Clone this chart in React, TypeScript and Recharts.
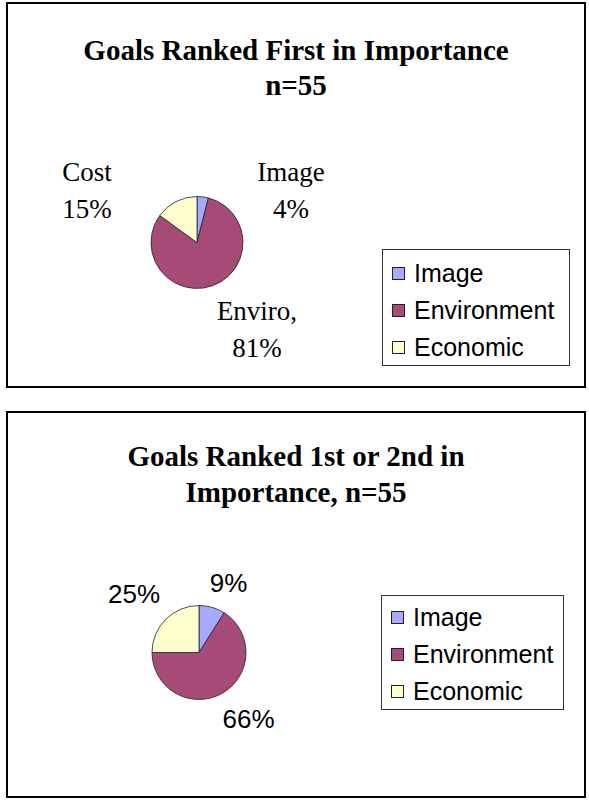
import React from 'react';
import { PieChart, Pie, Cell, Legend } from 'recharts';

// ---------- data ----------
const legendNames = ['Image', 'Environment', 'Economic'];
const sliceColors = ['#a6aaff', '#a64a78', '#ffffd0'];

const firstTitle = ['Goals Ranked First in Importance', 'n=55'];
const firstValues = [4, 81, 15];
const firstLabels = [['Image', '4%'], ['Enviro,', '81%'], ['Cost', '15%']];

const secondTitle = ['Goals Ranked 1st or 2nd in', 'Importance, n=55'];
const secondValues = [9, 66, 25];
const secondLabels = [['9%'], ['66%'], ['25%']];

// ---------- layout ----------
type LabelPos = { dx: number; dy: number };

type PanelCfg = {
  left: number;
  top: number;
  width: number;
  height: number;
  titleBaselines: number[];
  cx: number;
  cy: number;
  r: number;
  labelFont: string;
  labelSize: number;
  labelLineGap: number;
  labelPos: LabelPos[];
  legendBox: { left: number; top: number; width: number; height: number; rowStart: number };
};

const panel1: PanelCfg = {
  left: 6,
  top: 2,
  width: 580,
  height: 386,
  titleBaselines: [56, 91],
  cx: 189,
  cy: 238.5,
  r: 46,
  labelFont: '"Liberation Serif", "Times New Roman", serif',
  labelSize: 27,
  labelLineGap: 36.5,
  labelPos: [
    { dx: 94, dy: -61.5 },
    { dx: 60, dy: 77.5 },
    { dx: -110, dy: -61.5 },
  ],
  legendBox: { left: 374, top: 245, width: 188, height: 117, rowStart: 24 },
};

const panel2: PanelCfg = {
  left: 6,
  top: 411,
  width: 580,
  height: 387,
  titleBaselines: [53, 89],
  cx: 191,
  cy: 239.5,
  r: 47,
  labelFont: '"Liberation Sans", Arial, sans-serif',
  labelSize: 26,
  labelLineGap: 30,
  labelPos: [
    { dx: 29.5, dy: -60.5 },
    { dx: 49.5, dy: 75.5 },
    { dx: -65, dy: -49.5 },
  ],
  legendBox: { left: 373, top: 182, width: 183, height: 115, rowStart: 22 },
};

const BORDER = 2;
const ROW_GAP = 37;

function makeLegend(cfg: PanelCfg) {
  return (props: any) => {
    const payload: any[] = (props && props.payload) || [];
    const items = legendNames.map((n, i) => {
      const found = payload.find((p: any) => p && p.value === n);
      return { value: n, color: (found && found.color) || sliceColors[i] };
    });
    const lb = cfg.legendBox;
    return (
      <div
        style={{
          position: 'relative',
          width: lb.width,
          height: lb.height,
          border: '1px solid #333',
          boxSizing: 'border-box',
          background: '#fff',
          fontFamily: '"Liberation Sans", Arial, sans-serif',
          fontSize: 25,
          color: '#000',
        }}
      >
        {items.map((p, i) => (
          <div
            key={i}
            style={{
              position: 'absolute',
              left: 0,
              top: lb.rowStart + i * ROW_GAP - 15 - 1,
              height: 30,
              display: 'flex',
              alignItems: 'center',
              whiteSpace: 'nowrap',
            }}
          >
            <div
              style={{
                marginLeft: 9,
                width: 13,
                height: 13,
                boxSizing: 'border-box',
                border: '1px solid #222',
                background: p.color,
              }}
            />
            <span style={{ marginLeft: 9, lineHeight: '30px' }}>{p.value}</span>
          </div>
        ))}
      </div>
    );
  };
}

function makeLabel(cfg: PanelCfg, texts: string[][]) {
  return (props: any) => {
    const i = props.index;
    const pos = cfg.labelPos[i];
    const x = props.cx + pos.dx;
    const y = props.cy + pos.dy;
    return (
      <text
        key={'lbl' + i}
        x={x}
        y={y}
        textAnchor="middle"
        fill="#000"
        style={{ fontFamily: cfg.labelFont, fontSize: cfg.labelSize }}
      >
        {texts[i].map((t, j) => (
          <tspan key={j} x={x} y={y + j * cfg.labelLineGap}>
            {t}
          </tspan>
        ))}
      </text>
    );
  };
}

function Panel({
  cfg,
  title,
  values,
  labels,
}: {
  cfg: PanelCfg;
  title: string[];
  values: number[];
  labels: string[][];
}) {
  const innerW = cfg.width - 2 * BORDER;
  const innerH = cfg.height - 2 * BORDER;
  const data = legendNames.map((n, i) => ({ name: n, value: values[i], fill: sliceColors[i] }));
  return (
    <div
      style={{
        position: 'absolute',
        left: cfg.left,
        top: cfg.top,
        width: cfg.width,
        height: cfg.height,
        border: `${BORDER}px solid #000`,
        boxSizing: 'border-box',
        background: '#fff',
      }}
    >
      <div style={{ position: 'absolute', left: 0, top: 0 }}>
        <PieChart width={innerW} height={innerH} margin={{ top: 0, right: 0, bottom: 0, left: 0 }}>
          <Pie
            data={data}
            dataKey="value"
            nameKey="name"
            cx={cfg.cx}
            cy={cfg.cy}
            outerRadius={cfg.r}
            startAngle={90}
            endAngle={-270}
            stroke="#222"
            strokeWidth={0.8}
            label={makeLabel(cfg, labels)}
            labelLine={false}
            isAnimationActive={false}
          >
            {data.map((d, i) => (
              <Cell key={i} fill={d.fill} />
            ))}
          </Pie>
          <Legend
            layout="vertical"
            align="right"
            verticalAlign="top"
            content={makeLegend(cfg)}
            wrapperStyle={{
              position: 'absolute',
              left: cfg.legendBox.left,
              top: cfg.legendBox.top,
              width: cfg.legendBox.width,
              height: cfg.legendBox.height,
            }}
          />
        </PieChart>
      </div>
      <svg
        width={innerW}
        height={innerH}
        style={{ position: 'absolute', left: 0, top: 0, pointerEvents: 'none' }}
      >
        {title.map((t, i) => (
          <text
            key={i}
            x={innerW / 2}
            y={cfg.titleBaselines[i]}
            textAnchor="middle"
            fill="#000"
            style={{
              fontFamily: '"Liberation Serif", "Times New Roman", serif',
              fontWeight: 'bold',
              fontSize: 29,
            }}
          >
            {t}
          </text>
        ))}
      </svg>
    </div>
  );
}

export default function App() {
  return (
    <div
      style={{
        position: 'absolute',
        left: 0,
        top: 0,
        width: 589,
        height: 803,
        background: '#fff',
        overflow: 'hidden',
      }}
    >
      <Panel cfg={panel1} title={firstTitle} values={firstValues} labels={firstLabels} />
      <Panel cfg={panel2} title={secondTitle} values={secondValues} labels={secondLabels} />
    </div>
  );
}
